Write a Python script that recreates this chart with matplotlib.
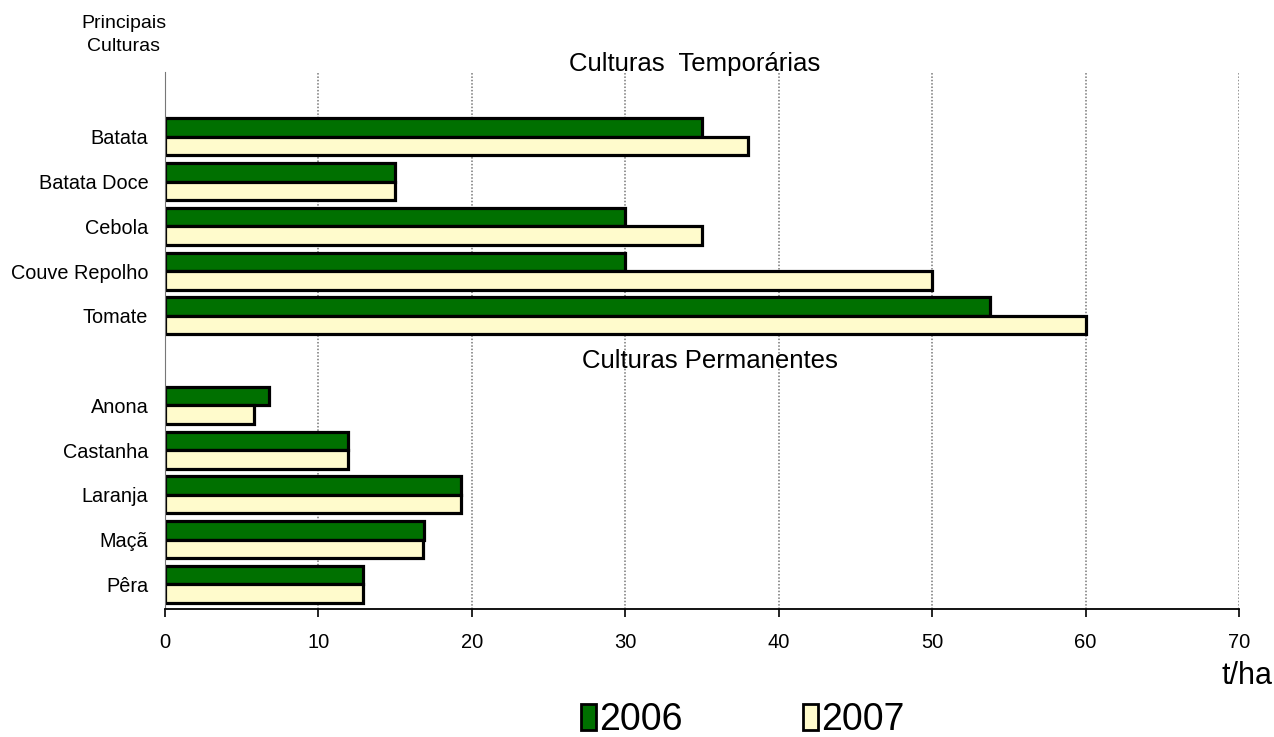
import matplotlib.pyplot as plt
import numpy as np

plt.rcParams['font.family'] = ['Liberation Sans', 'DejaVu Sans']

# dados (t/ha)
temporarias = ['Batata', 'Batata Doce', 'Cebola', 'Couve Repolho', 'Tomate']
temp_2006 = [35.0, 15.0, 30.0, 30.0, 53.8]
temp_2007 = [38.0, 15.0, 35.0, 50.0, 60.0]

permanentes = ['Anona', 'Castanha', 'Laranja', 'Maçã', 'Pêra']
perm_2006 = [6.8, 11.9, 19.3, 16.9, 12.9]
perm_2007 = [5.8, 11.9, 19.3, 16.8, 12.9]

x_ticks = [0, 10, 20, 30, 40, 50, 60, 70]

GREEN = '#007000'
CREAM = '#fffbcc'

labels = temporarias + permanentes
v2006 = np.array(temp_2006 + perm_2006)
v2007 = np.array(temp_2007 + perm_2007)
# slot 0 and slot 6 are left empty for the section titles
pos = np.array(list(range(1, 6)) + list(range(7, 12)))

fig = plt.figure(figsize=(12.74, 7.37), dpi=100)
ax = fig.add_axes([0.1295, 0.1737, 0.843, 0.7286])

h = 0.415
ax.barh(pos - h / 2, v2006, height=h, color=GREEN, edgecolor='black', linewidth=2.3, label='2006')
ax.barh(pos + h / 2, v2007, height=h, color=CREAM, edgecolor='black', linewidth=2.3, label='2007')

ax.set_xlim(0, 70)
ax.set_ylim(11.55, -0.45)
ax.set_xticks(x_ticks)
ax.set_xticklabels([str(t) for t in x_ticks], fontsize=14.5)
ax.set_yticks(pos)
ax.set_yticklabels(labels, fontsize=14.3)
ax.tick_params(axis='y', length=0, pad=12)
ax.tick_params(axis='x', length=6, width=1.2, pad=11)

ax.xaxis.grid(True, linestyle=(0, (1, 1.2)), color='#777777', linewidth=1.1)
ax.set_axisbelow(True)
for s in ['top', 'right']:
    ax.spines[s].set_visible(False)
ax.spines['left'].set_color('#777777')
ax.spines['bottom'].set_linewidth(1.3)

ax.text(34.5, -0.64, 'Culturas  Temporárias', fontsize=18.5, ha='center', va='center')
ax.text(35.5, 6.0, 'Culturas Permanentes', fontsize=18.5, ha='center', va='center')

fig.text(0.097, 0.952, 'Principais\nCulturas', fontsize=14, ha='center', va='center',
         linespacing=1.45)
fig.text(0.9985, 0.083, 't/ha', fontsize=22, ha='right', va='center')

leg = fig.legend(loc='center', bbox_to_anchor=(0.583, 0.023), ncol=2, frameon=False,
                 fontsize=27, handlelength=0.4, handleheight=0.7, handletextpad=0.1,
                 columnspacing=3.2)
for p in leg.get_patches():
    p.set_linewidth(2)

fig.savefig('out.png', dpi=100)
